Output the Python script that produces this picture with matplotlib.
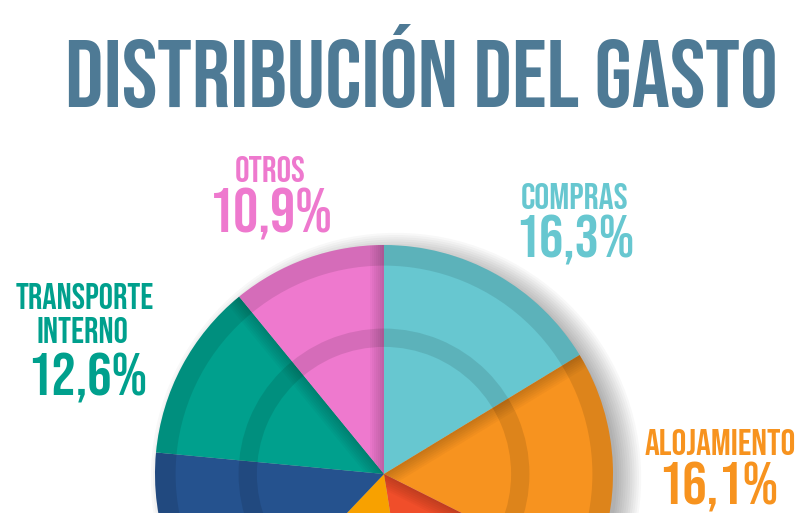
import matplotlib
matplotlib.use('Agg')
import matplotlib.pyplot as plt
from matplotlib.patches import Circle, Wedge, Polygon
import numpy as np

# spending share per category, clockwise from the top
categories = ['COMPRAS', 'ALOJAMIENTO', 'ALIMENTACIÓN', 'ENTRETENIMIENTO',
              'TRANSPORTE INTERNACIONAL', 'TRANSPORTE\nINTERNO', 'OTROS']
shares = [16.3, 16.1, 15.1, 14.6, 14.4, 12.6, 10.9]
colors = ['#67C7D0', '#F7931F', '#F04E2A', '#F8A100', '#25528E', '#00A08D', '#EE79CE']
title = 'DISTRIBUCIÓN DEL GASTO'

FONT = ['Bebas Neue', 'Liberation Sans Narrow', 'DejaVu Sans']

fig = plt.figure(figsize=(8.1, 5.13), dpi=100)
ax = fig.add_axes([0, 0, 1, 1])

cx, cy, R = 384, 474, 229

# soft drop shadow to the right
for i in range(12):
    ax.add_patch(Circle((cx + 12, cy + 4), R - 8 + 2.2 * i, fc='black', alpha=0.028, lw=0, zorder=1))

wedges, _ = ax.pie(shares, colors=colors, center=(cx, cy), radius=R,
                   startangle=-90, counterclock=True,
                   wedgeprops=dict(linewidth=0, zorder=2))

# darker rings
ax.add_patch(Wedge((cx, cy), R, 0, 360, width=R * 0.09, fc='black', alpha=0.1, lw=0, zorder=3))
ax.add_patch(Wedge((cx, cy), R * 0.635, 0, 360, width=R * 0.08, fc='black', alpha=0.1, lw=0, zorder=3))

# inner shadow along some slice edges
shade_sides = [None, 'theta1', 'theta1', None, None, 'theta2', 'theta2']
for w, side in zip(wedges, shade_sides):
    if side is None:
        continue
    th = np.deg2rad(getattr(w, side))
    u = np.array([np.cos(th), np.sin(th)])
    n = np.array([-np.sin(th), np.cos(th)]) if side == 'theta1' else np.array([np.sin(th), -np.cos(th)])
    c = np.array([cx, cy])
    for d in [2, 4, 6, 8, 10, 12, 14]:
        p = Polygon([c, c + R * u, c + R * u + d * n, c + d * n], fc='black', alpha=0.028, lw=0, zorder=4)
        ax.add_patch(p)
        p.set_clip_path(w)

ax.set_xlim(0, 810)
ax.set_ylim(513, 0)
ax.set_aspect('equal')
ax.axis('off')

fig.canvas.draw()
renderer = fig.canvas.get_renderer()


def fit_text(s, x, top, bottom, width, color):
    t = ax.text(x, bottom, s, ha='center', va='baseline', fontsize=20,
                color=color, family=FONT, zorder=6)
    fs_w = 20 * width / t.get_window_extent(renderer).width
    fs_h = (bottom - top) / 0.70 * 72 / 100
    fs = np.sqrt(fs_w * fs_h)
    t.set_fontsize(fs)
    cap = 0.70 * fs * 100 / 72
    t.set_y((top + bottom) / 2 + cap / 2)
    return t


def pct(v):
    return f'{v:.1f}'.replace('.', ',') + '%'


fit_text(title, 421, 40, 108, 699, '#4E7A95')

fit_text(categories[6], 270, 157, 181, 75, colors[6])
fit_text(pct(shares[6]), 271, 188, 234, 118, colors[6])

fit_text(categories[0], 575, 183, 208, 112, colors[0])
fit_text(pct(shares[0]), 575, 214, 258, 115, colors[0])

fit_text('TRANSPORTE', 85, 285, 309, 144, colors[5])
fit_text('INTERNO', 82, 319, 343, 95, colors[5])
fit_text(pct(shares[5]), 87, 353, 396, 119, colors[5])

fit_text(categories[1], 720, 430, 455, 155, colors[1])
fit_text(pct(shares[1]), 718, 462, 505, 119, colors[1])

fig.savefig('out.png', dpi=100)
